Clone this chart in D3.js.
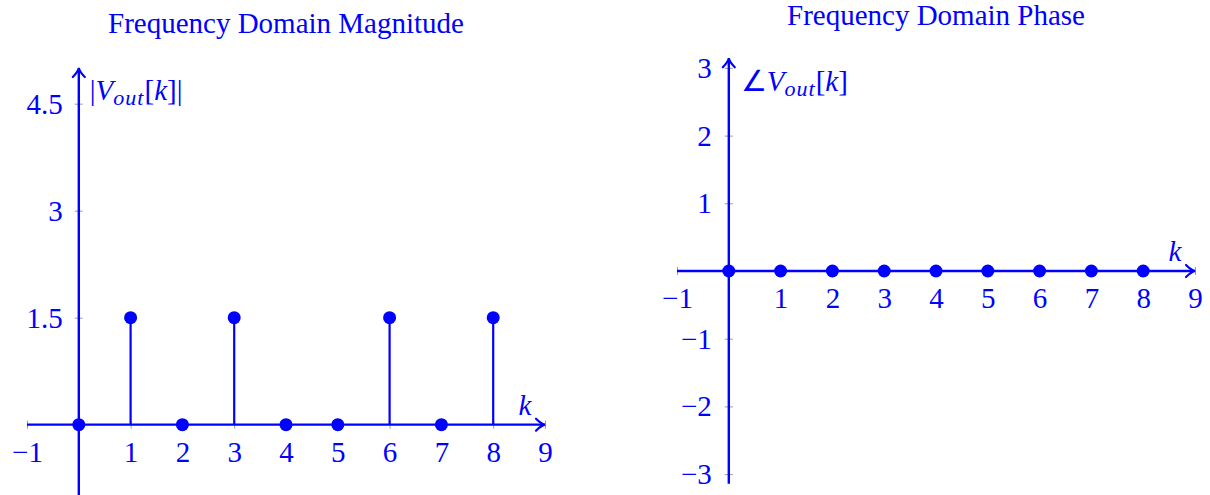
<!DOCTYPE html>
<html>
<head>
<meta charset="utf-8">
<script src="https://cdn.jsdelivr.net/npm/d3@7"></script>
<style>
  html, body { margin: 0; padding: 0; background: #fff; }
  svg { display: block; }
  text { font-family: "Liberation Serif", "Times New Roman", serif; fill: #0000ff; }
</style>
</head>
<body>
<svg id="chart" width="1210" height="495"></svg>
<script>
// Discrete spectrum of V_out[k]
const kValues = [0, 1, 2, 3, 4, 5, 6, 7, 8];
const magnitude = [0, 1.5, 0, 1.5, 0, 0, 1.5, 0, 1.5];
const phase = [0, 0, 0, 0, 0, 0, 0, 0, 0];

const xTicks = [-1, 1, 2, 3, 4, 5, 6, 7, 8, 9];
const magTicks = [1.5, 3, 4.5];
const phaseTicks = [-3, -2, -1, 1, 2, 3];

const BLUE = "#0000ff";
const svg = d3.select("#chart");
const fmt = d => d < 0 ? "\u2212" + Math.abs(d) : String(d);

function stemPanel(opts) {
  const g = svg.append("g");
  const x = d3.scaleLinear().domain(opts.xDomain).range(opts.xRange);
  const y = d3.scaleLinear().domain(opts.yDomain).range(opts.yRange);

  // title
  g.append("text")
    .attr("x", opts.titleX).attr("y", opts.titleY)
    .attr("text-anchor", "middle")
    .style("font-size", "29px")
    .text(opts.title);

  // horizontal axis with ticks crossing the line
  const xAxis = g.append("g")
    .attr("transform", `translate(0,${y(0)})`)
    .call(d3.axisBottom(x).tickValues(xTicks).tickSizeOuter(0).tickFormat(fmt));
  xAxis.select(".domain").remove();
  xAxis.selectAll(".tick line").attr("y1", -4).attr("y2", 4)
    .attr("stroke", "#999").attr("stroke-width", 1);
  xAxis.selectAll(".tick text").attr("y", 37).attr("dy", null)
    .style("font-size", "29px").attr("fill", BLUE)
    .style("font-family", "\"Liberation Serif\", serif");

  // vertical axis
  const yAxis = g.append("g")
    .attr("transform", `translate(${x(0)},0)`)
    .call(d3.axisLeft(y).tickValues(opts.yTicks).tickSizeOuter(0).tickFormat(fmt));
  yAxis.select(".domain").remove();
  yAxis.selectAll(".tick line").attr("x1", -4).attr("x2", 4)
    .attr("stroke", "#999").attr("stroke-width", 1);
  yAxis.selectAll(".tick text").attr("x", opts.yTickDx).attr("dy", "0.33em")
    .style("font-size", "29px").attr("fill", BLUE)
    .style("font-family", "\"Liberation Serif\", serif");

  // axis lines with arrow heads
  const x0 = opts.xDomain[0], x1 = opts.xDomain[1];
  const y0 = opts.yDomain[0], y1 = opts.yDomain[1];
  g.append("line")
    .attr("x1", x(x0)).attr("x2", x(x1) - 2)
    .attr("y1", y(0)).attr("y2", y(0))
    .attr("stroke", BLUE).attr("stroke-width", 2.4);
  g.append("line")
    .attr("x1", x(0)).attr("x2", x(0))
    .attr("y1", y(y0)).attr("y2", y(y1) + 2)
    .attr("stroke", BLUE).attr("stroke-width", 2.4);
  const ax = x(x1), ay = y(0);
  g.append("path")
    .attr("d", `M${ax - 9},${ay - 6} Q${ax - 4},${ay - 1} ${ax},${ay} Q${ax - 4},${ay + 1} ${ax - 9},${ay + 6}`)
    .attr("fill", "none").attr("stroke", BLUE).attr("stroke-width", 2.2)
    .attr("stroke-linecap", "round");
  const bx = x(0), by = y(y1);
  g.append("path")
    .attr("d", `M${bx - 6},${by + 9} Q${bx - 1},${by + 4} ${bx},${by} Q${bx + 1},${by + 4} ${bx + 6},${by + 9}`)
    .attr("fill", "none").attr("stroke", BLUE).attr("stroke-width", 2.2)
    .attr("stroke-linecap", "round");

  // axis labels
  const yl = g.append("text")
    .attr("x", x(0) + opts.yLabelDx).attr("y", y(y1) + opts.yLabelDy)
    .style("font-size", "29px");
  yl.append("tspan").text(opts.yLabelPrefix);
  yl.append("tspan").style("font-style", "italic").text("V");
  yl.append("tspan").style("font-style", "italic").style("font-size", "22px")
    .style("letter-spacing", "1px").attr("dy", 5).text("out");
  yl.append("tspan").attr("dy", -5).text("[");
  yl.append("tspan").style("font-style", "italic").text("k");
  yl.append("tspan").text("]" + opts.yLabelSuffix);

  g.append("text")
    .attr("x", x(x1) - 20).attr("y", y(0) - 10)
    .attr("text-anchor", "middle")
    .style("font-size", "29px").style("font-style", "italic")
    .text("k");

  // stems
  const pts = kValues.map((k, i) => ({ k, v: opts.values[i] }));
  g.selectAll(".stem").data(pts.filter(d => d.v !== 0)).join("line")
    .attr("class", "stem")
    .attr("x1", d => x(d.k)).attr("x2", d => x(d.k))
    .attr("y1", y(0)).attr("y2", d => y(d.v))
    .attr("stroke", BLUE).attr("stroke-width", 2.2);

  // markers
  g.selectAll(".dot").data(pts).join("circle")
    .attr("class", "dot")
    .attr("cx", d => x(d.k)).attr("cy", d => y(d.v))
    .attr("r", 6.5).attr("fill", BLUE);
}

stemPanel({
  title: "Frequency Domain Magnitude",
  titleX: 286, titleY: 33,
  xDomain: [-1, 9], xRange: [27, 545],
  yDomain: [-1, 5], yRange: [496, 68],
  yTicks: magTicks, yTickDx: -16,
  values: magnitude,
  yLabelPrefix: "|", yLabelSuffix: "|",
  yLabelDx: 11, yLabelDy: 32
});

stemPanel({
  title: "Frequency Domain Phase",
  titleX: 936, titleY: 25,
  xDomain: [-1, 9], xRange: [677, 1195],
  yDomain: [-Math.PI, Math.PI], yRange: [271 + Math.PI * 67.7, 271 - Math.PI * 67.7],
  yTicks: phaseTicks, yTickDx: -17,
  values: phase,
  yLabelPrefix: "\u2220", yLabelSuffix: "",
  yLabelDx: 12, yLabelDy: 33
});
</script>
</body>
</html>
